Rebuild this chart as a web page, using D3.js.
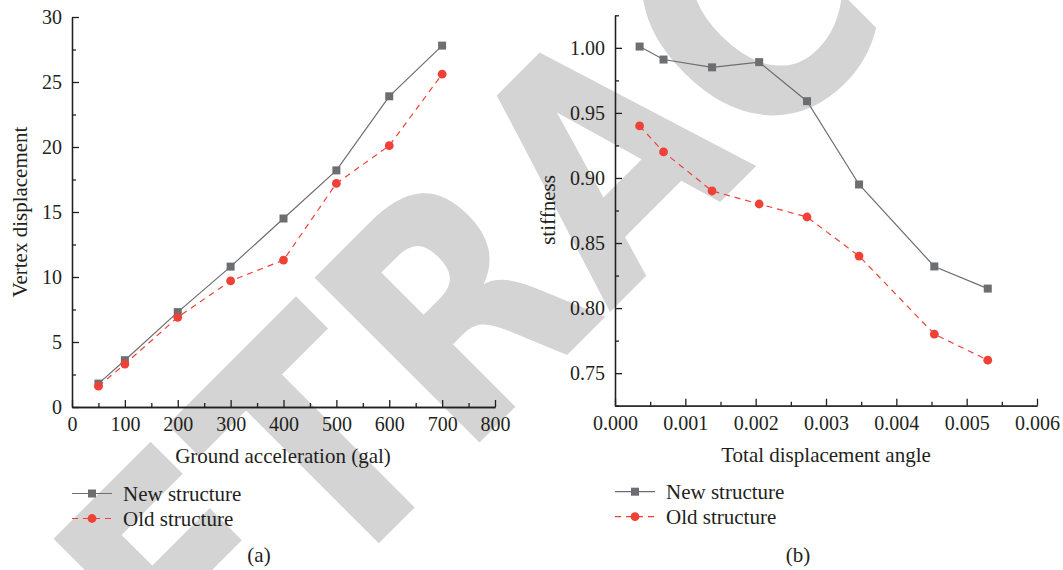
<!DOCTYPE html>
<html lang="en">
<head>
    <meta charset="UTF-8"/>
    <title>d3</title>
    <script src="https://d3js.org/d3.v7.min.js"></script>
    <style>
        body { margin: 0; background: #fff; }
        .axis path, .axis line {
            fill: none;
            stroke: #231f20;
            stroke-width: 1.3;
        }
        .axis text {
            font: 20px "Liberation Serif", serif;
            fill: #231f20;
        }
        .label {
            font: 21px "Liberation Serif", serif;
            fill: #231f20;
        }
    </style>
</head>
<body></body>
<script type="text/javascript">
    // panel (a)
    let accel = [50, 100, 200, 300, 400, 500, 600, 700];
    let vertexNew = [1.8, 3.6, 7.3, 10.8, 14.5, 18.2, 23.9, 27.8];
    let vertexOld = [1.6, 3.3, 6.9, 9.7, 11.3, 17.2, 20.1, 25.6];
    let accelTicks = [0, 100, 200, 300, 400, 500, 600, 700, 800];
    let vertexTicks = [0, 5, 10, 15, 20, 25, 30];

    // panel (b)
    let driftAngle = [0.00035, 0.00069, 0.00138, 0.00205, 0.00273, 0.00347, 0.00454, 0.0053];
    let stiffNew = [1.001, 0.991, 0.985, 0.989, 0.959, 0.895, 0.832, 0.815];
    let stiffOld = [0.94, 0.92, 0.89, 0.88, 0.87, 0.84, 0.78, 0.76];
    let angleTicks = [0, 0.001, 0.002, 0.003, 0.004, 0.005, 0.006];
    let stiffTicks = [0.75, 0.80, 0.85, 0.90, 0.95, 1.00];

    let seriesNames = ["New structure", "Old structure"];

    let width = 1063, height = 570;
    let grey = "#6d6e71", red = "#ef4136";

    let svg = d3.select("body").append("svg")
        .attr("width", width)
        .attr("height", height);

    // retraction stamp behind everything
    svg.append("text")
        .attr("transform", "translate(53.7,868.4) rotate(-45) scale(0.845,1)")
        .style("font-family", "'DejaVu Sans', sans-serif")
        .style("font-weight", "bold")
        .style("font-size", "320px")
        .style("fill", "#d4d4d4")
        .text("RETRACTED");

    function panel(opt) {
        let x = d3.scaleLinear().domain(opt.xDomain).range(opt.xRange);
        let y = d3.scaleLinear().domain(opt.yDomain).range(opt.yRange);
        let g = svg.append("g");

        // minor ticks
        g.append("g").attr("class", "axis")
            .attr("transform", "translate(0," + opt.yRange[0] + ")")
            .call(d3.axisBottom(x).tickValues(opt.xMinor).tickSize(-4).tickSizeOuter(0).tickFormat(""));
        g.append("g").attr("class", "axis")
            .attr("transform", "translate(" + opt.xRange[0] + ",0)")
            .call(d3.axisLeft(y).tickValues(opt.yMinor).tickSize(-4).tickSizeOuter(0).tickFormat(""));

        g.append("g").attr("class", "axis")
            .attr("transform", "translate(0," + opt.yRange[0] + ")")
            .call(d3.axisBottom(x).tickValues(opt.xTicks).tickSize(-7).tickSizeOuter(0)
                .tickPadding(10).tickFormat(opt.xFormat));
        g.append("g").attr("class", "axis")
            .attr("transform", "translate(" + opt.xRange[0] + ",0)")
            .call(d3.axisLeft(y).tickValues(opt.yTicks).tickSize(-7).tickSizeOuter(0)
                .tickPadding(10).tickFormat(opt.yFormat));

        g.append("text").attr("class", "label")
            .attr("x", opt.xTitlePos[0]).attr("y", opt.xTitlePos[1])
            .attr("text-anchor", "middle")
            .text(opt.xTitle);
        g.append("text").attr("class", "label")
            .attr("transform", "translate(" + opt.yTitlePos[0] + "," + opt.yTitlePos[1] + ") rotate(-90)")
            .attr("text-anchor", "middle")
            .text(opt.yTitle);
        g.append("text").attr("class", "label")
            .attr("x", opt.tagPos[0]).attr("y", opt.tagPos[1])
            .attr("text-anchor", "middle")
            .text(opt.tag);

        let line = d3.line().x(d => x(d[0])).y(d => y(d[1]));
        let ptsNew = opt.xs.map((v, i) => [v, opt.yNew[i]]);
        let ptsOld = opt.xs.map((v, i) => [v, opt.yOld[i]]);

        g.append("path").attr("d", line(ptsNew))
            .style("fill", "none").style("stroke", grey).style("stroke-width", 1.2);
        g.append("path").attr("d", line(ptsOld))
            .style("fill", "none").style("stroke", red).style("stroke-width", 1.2)
            .style("stroke-dasharray", "6,5");

        g.selectAll(".sq").data(ptsNew).enter().append("rect")
            .attr("x", d => x(d[0]) - 4).attr("y", d => y(d[1]) - 4)
            .attr("width", 8).attr("height", 8)
            .style("fill", grey);
        g.selectAll(".dot").data(ptsOld).enter().append("circle")
            .attr("cx", d => x(d[0])).attr("cy", d => y(d[1])).attr("r", 4.4)
            .style("fill", red);

        // legend
        let lx = opt.legendPos[0], ly = opt.legendPos[1];
        g.append("line").attr("x1", lx).attr("x2", lx + 40).attr("y1", ly).attr("y2", ly)
            .style("stroke", grey).style("stroke-width", 1.2);
        g.append("rect").attr("x", lx + 16).attr("y", ly - 4).attr("width", 8).attr("height", 8)
            .style("fill", grey);
        g.append("line").attr("x1", lx).attr("x2", lx + 40).attr("y1", ly + 25).attr("y2", ly + 25)
            .style("stroke", red).style("stroke-width", 1.2).style("stroke-dasharray", "6,5");
        g.append("circle").attr("cx", lx + 20).attr("cy", ly + 25).attr("r", 4.4)
            .style("fill", red);
        g.selectAll(".leg").data(seriesNames).enter().append("text")
            .attr("class", "label")
            .attr("x", lx + 51)
            .attr("y", (d, i) => ly + 7 + i * 25)
            .text(d => d);
    }

    panel({
        xDomain: [0, 800], xRange: [72, 495],
        yDomain: [0, 30], yRange: [407, 17],
        xTicks: accelTicks, yTicks: vertexTicks,
        xMinor: d3.range(50, 800, 100), yMinor: d3.range(2.5, 30, 5),
        xFormat: d3.format("d"), yFormat: d3.format("d"),
        xs: accel, yNew: vertexNew, yOld: vertexOld,
        xTitle: "Ground acceleration (gal)", xTitlePos: [283, 463],
        yTitle: "Vertex displacement", yTitlePos: [27, 212],
        tag: "(a)", tagPos: [259, 562],
        legendPos: [72, 493.5]
    });

    panel({
        xDomain: [0, 0.006], xRange: [615, 1037],
        yDomain: [0.725, 1.025], yRange: [405.7, 15.3],
        xTicks: angleTicks, yTicks: stiffTicks,
        xMinor: d3.range(0.0005, 0.006, 0.001), yMinor: [0.725, 0.775, 0.825, 0.875, 0.925, 0.975, 1.025],
        xFormat: d3.format(".3f"), yFormat: d3.format(".2f"),
        xs: driftAngle, yNew: stiffNew, yOld: stiffOld,
        xTitle: "Total displacement angle", xTitlePos: [826, 461.5],
        yTitle: "stiffness", yTitlePos: [555, 210],
        tag: "(b)", tagPos: [798, 562],
        legendPos: [615, 491.7]
    });
</script>
</html>
